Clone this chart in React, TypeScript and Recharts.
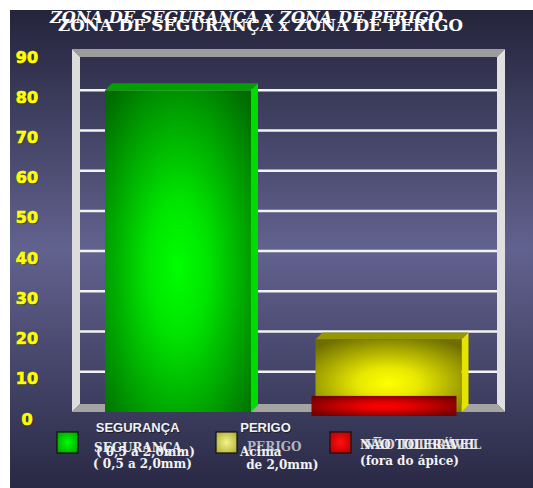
import React from "react";
import { BarChart, Bar, XAxis, YAxis, CartesianGrid, Legend } from "recharts";

const categories = ["SEGURANÇA", "PERIGO"];
const segurancaValues = [80, 0];
const perigoValues = [0, 18];
const naoToleravelValues = [0, 5];
const seriesKeys = ["seguranca", "perigo", "naoToleravel"];
const seriesNames = ["SEGURANÇA", "PERIGO", "NÃO TOLERÁVEL"];
const legendNotes = [
  ["( 0,5 a 2,0mm)", "( 0,5 a 2,0mm)"],
  ["Acima", " de 2,0mm)"],
  ["(fora do ápice)"],
];
const yTicks = [0, 10, 20, 30, 40, 50, 60, 70, 80, 90];
const chartTitle = "ZONA DE SEGURANÇA x ZONA DE PERIGO";

const data = categories.map((cat, i) => ({
  cat,
  seguranca: segurancaValues[i],
  perigo: perigoValues[i],
  naoToleravel: naoToleravelValues[i],
}));

// layout (chart coords, page = chart + 10)
const W = 523;
const H = 478;
const PLOT = { left: 62, right: 495, top: 40, bottom: 402 };
const WALL = 8;
const xLabelShift = [-82, -149];
const serif = "'DejaVu Serif', serif";
const sans = "'Liberation Sans', Arial, sans-serif";

const legendLayout = [
  { sx: 47, nameX: 84, nameY: 442, nameFill: "#eeeeee", ghost: 0, notes: [[86, 446], [83, 458]] },
  { sx: 206, nameX: 237, nameY: 441, nameFill: "#b4b4c0", ghost: 0, notes: [[230, 446], [232, 459]] },
  { sx: 320, nameX: 350, nameY: 439, nameFill: "#f0f0f0", ghost: 4, notes: [[350, 455]] },
];
const swatchGrads = ["swGreen", "swYellow", "swRed"];

const makeBox =
  (gradId: string, top: string, side: string, d: number, dx = 0, dy = 0) =>
  (props: any) => {
    const { x, y, width, height } = props;
    if (!height || height <= 0) return <g />;
    const X = x + dx;
    const Y = y + dy;
    const w = width;
    const h = height;
    return (
      <g>
        {d > 0 && (
          <polygon points={`${X},${Y} ${X + d},${Y - d} ${X + w + d},${Y - d} ${X + w},${Y}`} fill={top} />
        )}
        {d > 0 && (
          <polygon
            points={`${X + w},${Y} ${X + w + d},${Y - d} ${X + w + d},${Y + h - d} ${X + w},${Y + h}`}
            fill={side}
          />
        )}
        <rect x={X} y={Y} width={w} height={h} fill={`url(#${gradId})`} />
      </g>
    );
  };

const gridLine = (p: any) => {
  const { y1, x1, x2, key } = p;
  if (y1 < PLOT.top + WALL || y1 > PLOT.bottom - WALL) return <g key={key} />;
  return <line key={key} x1={x1 + WALL} x2={x2 - WALL} y1={y1} y2={y1} stroke="#f4f4f4" strokeWidth={2.5} />;
};

const YTick = ({ y, payload }: any) => (
  <g>
    <text x={18} y={y + 8} textAnchor="middle" dominantBaseline="central" fontFamily="'DejaVu Sans', sans-serif"
      fontWeight="bold" fontSize={16} fill="#2a2a30">{payload.value}</text>
    <text x={17} y={y + 7} textAnchor="middle" dominantBaseline="central" fontFamily="'DejaVu Sans', sans-serif"
      fontWeight="bold" fontSize={16} fill="#ffff00" stroke="#ffff00" strokeWidth={0.7}>{payload.value}</text>
  </g>
);

const XTick = ({ x, payload }: any) => {
  const sx = x + xLabelShift[payload.index];
  return (
    <g>
      <text x={sx + 1} y={423} fontFamily={sans} fontWeight="bold" fontSize={13} fill="#1e1e2a">{payload.value}</text>
      <text x={sx} y={422} fontFamily={sans} fontWeight="bold" fontSize={13} fill="#f2f2f2">{payload.value}</text>
    </g>
  );
};

const renderLegend = (props: any) => {
  const payload = props.payload || [];
  return (
    <svg width={W} height={H} style={{ position: "absolute", left: 0, top: 0 }}>
      {payload.map((entry: any) => {
        const i = seriesKeys.indexOf(entry.dataKey);
        if (i < 0) return null;
        const l = legendLayout[i];
        const txt = { fontFamily: serif, fontWeight: "bold" as const, fontSize: 12 };
        return (
          <g key={entry.dataKey}>
            <rect x={l.sx} y={422} width={21} height={21} fill={`url(#${swatchGrads[i]})`} stroke="#111" strokeWidth={1.2} />
            {l.ghost > 0 && (
              <text x={l.nameX + l.ghost} y={l.nameY} {...txt} fill={l.nameFill} opacity={0.85}>{entry.value}</text>
            )}
            <text x={l.nameX} y={l.nameY} {...txt} fill={l.nameFill}>{entry.value}</text>
            {legendNotes[i].map((n, j) => (
              <text key={j} x={l.notes[j][0]} y={l.notes[j][1]} {...txt} fill="#f2f2f2" xmlSpace="preserve">{n}</text>
            ))}
          </g>
        );
      })}
    </svg>
  );
};

const Backdrop = () => (
  <svg width={W} height={H} style={{ position: "absolute", left: 0, top: 0 }}>
    <defs>
      <linearGradient id="bgGrad" x1="0" y1="0" x2="0" y2="1">
        <stop offset="0" stopColor="#24243c" />
        <stop offset="0.5" stopColor="#62628f" />
        <stop offset="1" stopColor="#292945" />
      </linearGradient>
      <radialGradient id="gGreen" cx="0.5" cy="0.55" r="0.7">
        <stop offset="0" stopColor="#00ff00" />
        <stop offset="0.3" stopColor="#00e400" />
        <stop offset="1" stopColor="#006c00" />
      </radialGradient>
      <radialGradient id="gYellow" cx="0.5" cy="0.6" r="0.7">
        <stop offset="0" stopColor="#ffff00" />
        <stop offset="0.3" stopColor="#e8e800" />
        <stop offset="1" stopColor="#6e6e00" />
      </radialGradient>
      <radialGradient id="gRed" cx="0.5" cy="0.5" r="0.6">
        <stop offset="0" stopColor="#ff0000" />
        <stop offset="0.3" stopColor="#e80000" />
        <stop offset="1" stopColor="#760000" />
      </radialGradient>
      <radialGradient id="swGreen" cx="0.5" cy="0.5" r="0.6">
        <stop offset="0" stopColor="#00ff00" />
        <stop offset="1" stopColor="#00a800" />
      </radialGradient>
      <radialGradient id="swYellow" cx="0.5" cy="0.5" r="0.6">
        <stop offset="0" stopColor="#f4f488" />
        <stop offset="1" stopColor="#b4b43c" />
      </radialGradient>
      <radialGradient id="swRed" cx="0.5" cy="0.5" r="0.6">
        <stop offset="0" stopColor="#ff1010" />
        <stop offset="1" stopColor="#c00000" />
      </radialGradient>
    </defs>
    <rect x={0} y={0} width={W} height={H} fill="url(#bgGrad)" />
    {/* 3d frame */}
    <polygon points={`${PLOT.left},39 ${PLOT.right},39 ${PLOT.right - WALL},47 ${PLOT.left + WALL},47`} fill="#9c9c9c" />
    <polygon points={`${PLOT.left},39 ${PLOT.left + WALL},47 ${PLOT.left + WALL},${PLOT.bottom - WALL} ${PLOT.left},${PLOT.bottom}`} fill="#dcdcdc" />
    <polygon points={`${PLOT.right},39 ${PLOT.right},${PLOT.bottom} ${PLOT.right - WALL},${PLOT.bottom - WALL} ${PLOT.right - WALL},47`} fill="#e0e0e0" />
    <polygon points={`${PLOT.left},${PLOT.bottom} ${PLOT.left + WALL},${PLOT.bottom - WALL} ${PLOT.right - WALL},${PLOT.bottom - WALL} ${PLOT.right},${PLOT.bottom}`} fill="#a4a4a4" />
    <text x={40} y={13} fontFamily={serif} fontWeight="bold" fontStyle="italic" fontSize={16}
      fill="#ffffff" textLength={393} lengthAdjust="spacingAndGlyphs">{chartTitle}</text>
    <text x={48} y={21} fontFamily={serif} fontWeight="bold" fontSize={17}
      fill="#ffffff" textLength={405} lengthAdjust="spacingAndGlyphs">{chartTitle}</text>
  </svg>
);

export default function App() {
  return (
    <div style={{ position: "absolute", left: 10, top: 10, width: W, height: H, overflow: "hidden" }}>
      <Backdrop />
      <div style={{ position: "absolute", left: 0, top: 0 }}>
        <BarChart
          width={W}
          height={H}
          data={data}
          margin={{ top: PLOT.top, right: W - PLOT.right, left: 0, bottom: H - PLOT.bottom - 30 }}
        >
          <CartesianGrid vertical={false} horizontal={gridLine} fill="none" />
          <XAxis xAxisId="main" dataKey="cat" height={30} axisLine={false} tickLine={false}
            padding={{ left: 0, right: 10 }} tick={<XTick />} interval={0} />
          <XAxis xAxisId="front" dataKey="cat" hide padding={{ left: 0, right: 10 }} />
          <YAxis domain={[0, 90]} ticks={yTicks} width={PLOT.left} axisLine={false} tickLine={false}
            tick={<YTick />} interval={0} />
          <Legend layout="horizontal" verticalAlign="middle" content={renderLegend}
            wrapperStyle={{ left: 0, top: 0, width: W, height: H, pointerEvents: "none" }} />
          <Bar xAxisId="main" dataKey="seguranca" name={seriesNames[0]} stackId="a" barSize={146}
            fill="#00e000" shape={makeBox("gGreen", "#00a000", "#00dc00", 7)} isAnimationActive={false} />
          <Bar xAxisId="main" dataKey="perigo" name={seriesNames[1]} stackId="a" barSize={146}
            fill="#e0e000" shape={makeBox("gYellow", "#969600", "#e4e400", 7, -1)} isAnimationActive={false} />
          <Bar xAxisId="front" dataKey="naoToleravel" name={seriesNames[2]} barSize={145}
            fill="#e00000" shape={makeBox("gRed", "#900000", "#c00000", 0, -5, 4)} isAnimationActive={false} />
        </BarChart>
      </div>
    </div>
  );
}
